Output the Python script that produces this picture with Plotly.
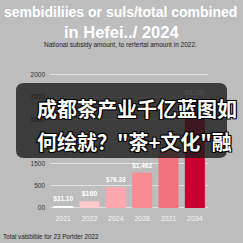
import plotly.graph_objects as go

# --- data ---
x_pos = [0, 1, 2, 3, 4, 5]
x_labels = ["2021", "2022", "2024", "2028", "2021", "2034"]
values = [30, 150, 470, 800, 1290, 2430]
bar_text = ["$31.10", "$160", "$76.33", "$1,462", "", "$5,160"]
bar_colors = ["#ffffff", "#ffc9cd", "#ffa7ae", "#f98b93", "#ef737b", "#c8002f"]
y_tickvals = [0, 500, 1000, 1500, 2000, 2500, 3000]
y_ticktext = ["00", "500", "1500", "400", "5000", "2000", "2000"]

title1 = "sembidiliies or suls/total combined"
title2 = "in Hefei../ 2024"
subtitle = "National subsidy amount, to rertertal amount in 2022."
footer = "Total valsbible for 23 Portder 2022"
overlay1 = "成都茶产业千亿蓝图如"
overlay2 = "何绘就？\"茶+文化\"融"

W, H = 243, 243
ml, mr, mt, mb = 50, 35, 70, 30
pw, ph = W - ml - mr, H - mt - mb

def px(x):
    return (x - ml) / pw

def py(y):
    return (H - mb - y) / ph

fig = go.Figure()
fig.add_trace(go.Bar(
    x=x_pos, y=values, width=0.76,
    marker=dict(color=bar_colors, line=dict(width=0)),
    text=bar_text, textposition="outside", cliponaxis=False,
    textfont=dict(family="Liberation Sans", size=7, color="white", weight="bold"),
))

# overlay rounded box
x0, x1, y0, y1 = px(16), px(227), py(158), py(83)
rx, ry = 8 / pw, 8 / ph
path = (f"M {x0+rx},{y0} L {x1-rx},{y0} Q {x1},{y0} {x1},{y0+ry} "
        f"L {x1},{y1-ry} Q {x1},{y1} {x1-rx},{y1} L {x0+rx},{y1} "
        f"Q {x0},{y1} {x0},{y1-ry} L {x0},{y0+ry} Q {x0},{y0} {x0+rx},{y0} Z")
fig.add_shape(type="path", xref="paper", yref="paper", path=path,
              fillcolor="rgba(28,28,28,0.80)", line=dict(width=0), layer="above")

outline = "-1px -1px 0 #000, 1px -1px 0 #000, -1px 1px 0 #000, 1px 1px 0 #000, 0 0 2px #000"
annos = [
    dict(text=title1, x=120, y=12, size=14, color="white", weight="bold", fam="Liberation Sans"),
    dict(text=title2, x=121, y=32, size=16.5, color="white", weight="bold", fam="Liberation Sans"),
    dict(text=subtitle, x=120, y=45, size=6.5, color="#222222", weight="normal", fam="Liberation Sans"),
]
for a in annos:
    fig.add_annotation(text=a["text"], xref="paper", yref="paper", x=px(a["x"]), y=py(a["y"]),
                       xanchor="center", yanchor="middle", showarrow=False,
                       font=dict(family=a["fam"], size=a["size"], color=a["color"], weight=a["weight"]))
fig.add_annotation(text=footer, xref="paper", yref="paper", x=px(1), y=py(236),
                   xanchor="left", yanchor="middle", showarrow=False,
                   font=dict(family="Liberation Sans", size=6.3, color="#222222"))
for txt, yy in [(overlay1, 108), (overlay2, 141)]:
    fig.add_annotation(text=txt, xref="paper", yref="paper", x=px(35), y=py(yy),
                       xanchor="left", yanchor="middle", showarrow=False,
                       font=dict(family="Noto Sans CJK SC", size=20, color="white",
                                 weight="bold", shadow=outline))

fig.update_layout(
    width=W, height=H, margin=dict(l=ml, r=mr, t=mt, b=mb),
    paper_bgcolor="#bdbdbd", plot_bgcolor="#bdbdbd", showlegend=False,
    xaxis=dict(range=[-0.5, 5.5], tickvals=x_pos, ticktext=x_labels, showgrid=False,
               zeroline=False, showline=False, ticks="",
               tickfont=dict(family="Liberation Sans", size=7, color="#f4f4f4")),
    yaxis=dict(range=[-113, 3112], tickvals=y_tickvals, ticktext=y_ticktext,
               showgrid=True, gridcolor="rgba(255,255,255,0.55)", gridwidth=1,
               zeroline=False, showline=False, ticks="", ticklabelstandoff=4,
               tickfont=dict(family="Liberation Sans", size=6.5, color="#333333")),
)

fig.write_html("out.html")
